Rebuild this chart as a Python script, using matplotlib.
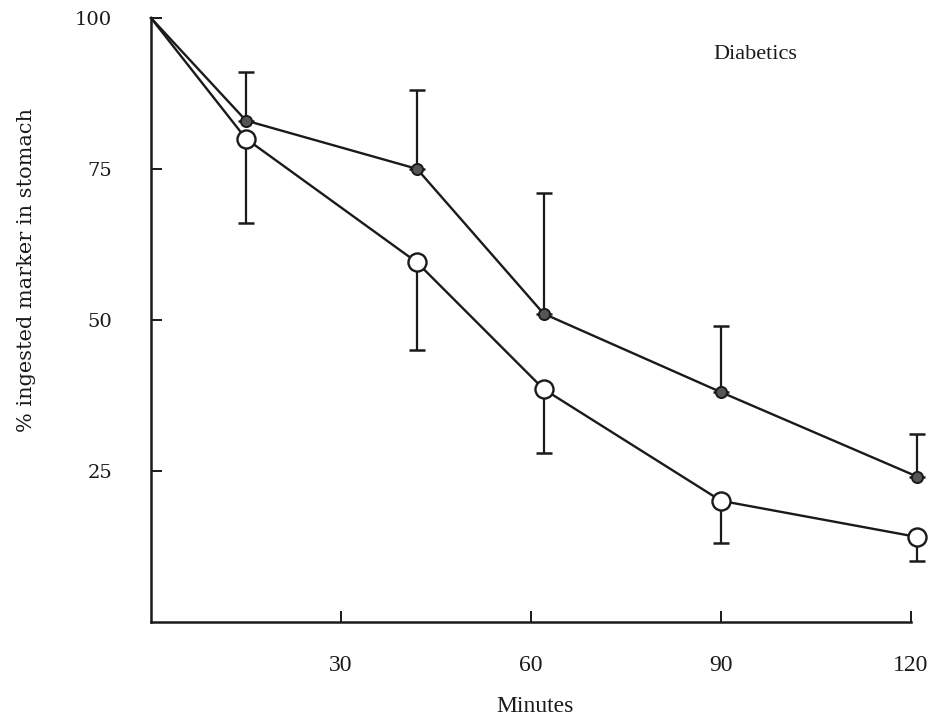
import matplotlib
matplotlib.use("Agg")
import matplotlib.pyplot as plt

# Gastric emptying in diabetics: % of ingested marker remaining in stomach
minutes = [0, 15, 42, 62, 90, 121]

filled_vals = [100, 83, 75, 51, 38, 24]
filled_err_up = [0, 8, 13, 20, 11, 7]

open_vals = [100, 80, 59.5, 38.5, 20, 14]
open_err_down = [0, 14, 14.5, 10.5, 7, 4]

x_ticks = [30, 60, 90, 120]
x_tick_labels = ["30", "60", "90", "120"]
y_ticks = [25, 50, 75, 100]
y_tick_labels = ["25", "50", "75", "100"]

serif = ["Liberation Serif", "DejaVu Serif"]
wide_serif = ["DejaVu Serif"]

fig = plt.figure(figsize=(9.33, 7.24), dpi=100)
ax = fig.add_axes([151 / 933, 1 - 621.5 / 724, (911 - 151) / 933, (621.5 - 18) / 724])

ink = "#1a1a1a"

# error bars (one-sided): filled series upward, open series downward
ax.errorbar(minutes[1:], filled_vals[1:],
            yerr=[[0] * (len(minutes) - 1), filled_err_up[1:]],
            fmt="none", ecolor=ink, elinewidth=1.6, capsize=6, capthick=1.8,
            clip_on=False, zorder=2)
ax.errorbar(minutes[1:], open_vals[1:],
            yerr=[open_err_down[1:], [0] * (len(minutes) - 1)],
            fmt="none", ecolor=ink, elinewidth=1.6, capsize=6, capthick=1.8,
            clip_on=False, zorder=2)

# connecting lines
ax.plot(minutes, filled_vals, color=ink, lw=1.7, clip_on=False, zorder=3)
ax.plot(minutes, open_vals, color=ink, lw=1.7, clip_on=False, zorder=3)

# markers
ax.plot(minutes[1:], filled_vals[1:], "o", ms=8, mfc="#555555", mec=ink,
        mew=1.4, ls="none", clip_on=False, zorder=4)
ax.plot(minutes[1:], open_vals[1:], "o", ms=13, mfc="white", mec=ink,
        mew=1.7, ls="none", clip_on=False, zorder=4)

ax.set_xlim(0, 120)
ax.set_ylim(0, 100)

for side in ("top", "right"):
    ax.spines[side].set_visible(False)
for side in ("left", "bottom"):
    ax.spines[side].set_linewidth(1.8)
    ax.spines[side].set_color(ink)

ax.set_xticks(x_ticks)
ax.set_xticklabels(x_tick_labels, fontfamily=serif, fontsize=17)
ax.set_yticks(y_ticks)
ax.set_yticklabels(y_tick_labels, fontfamily=wide_serif, fontsize=14)
ax.tick_params(axis="x", direction="in", length=8, width=1.4, pad=24, colors=ink)
ax.tick_params(axis="y", direction="in", length=8, width=1.4, pad=28, colors=ink)

fig.text(535 / 933, 1 - 706 / 724, "Minutes", ha="center", va="center",
         fontfamily=serif, fontsize=17, color=ink)
fig.text(27 / 933, 1 - 270 / 724, "% ingested marker in stomach", ha="center",
         va="center", rotation=90, fontfamily=wide_serif, fontsize=15, color=ink)
ax.text(0.795, 0.94, "Diabetics", transform=ax.transAxes, ha="center",
        va="center", fontfamily=serif, fontsize=16, color=ink)

fig.savefig("out.png", dpi=100, facecolor="white")
